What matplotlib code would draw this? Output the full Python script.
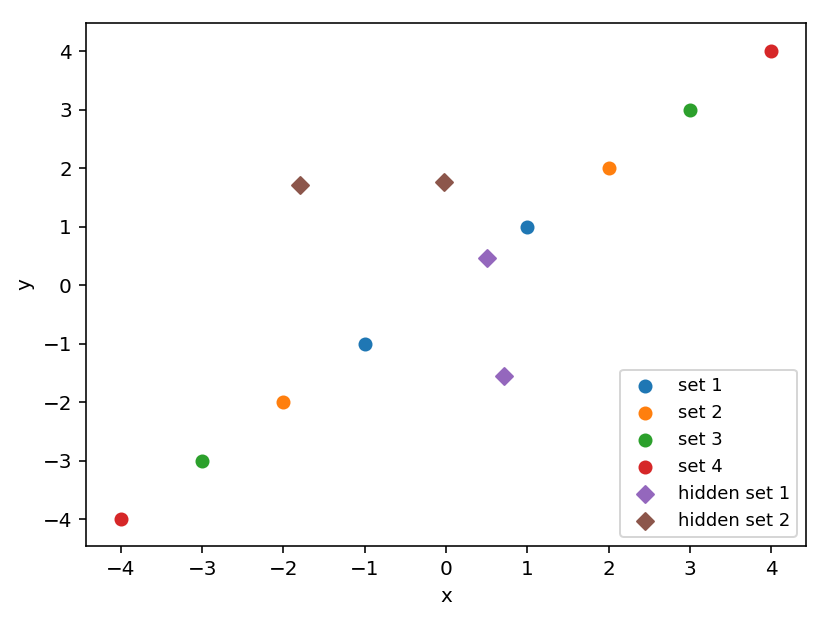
import matplotlib
matplotlib.use('Agg')
from matplotlib import pyplot as plt

set_x = [[1, -1], [2, -2], [3, -3], [4, -4]]
set_y = [[1, -1], [2, -2], [3, -3], [4, -4]]
set_labels = ['set 1', 'set 2', 'set 3', 'set 4']

hidden_x = [[0.5, 0.71], [-1.8, -0.02]]
hidden_y = [[0.47, -1.56], [1.71, 1.755]]
hidden_labels = ['hidden set 1', 'hidden set 2']

fig = plt.figure(figsize=(830 / 144, 623 / 144), dpi=144)
ax = fig.add_axes([86 / 830, 77 / 623, 720 / 830, 523 / 623])

for xs, ys, lab in zip(set_x, set_y, set_labels):
    ax.scatter(xs, ys, label=lab)
for xs, ys, lab in zip(hidden_x, hidden_y, hidden_labels):
    ax.scatter(xs, ys, marker='D', label=lab)

ax.set_xlim(-4.43, 4.43)
ax.set_ylim(-4.46, 4.48)
ax.set_xlabel('x')
ax.set_ylabel('y')
ax.legend(loc='lower right', fontsize=9)

fig.savefig('out.png', dpi=144)
